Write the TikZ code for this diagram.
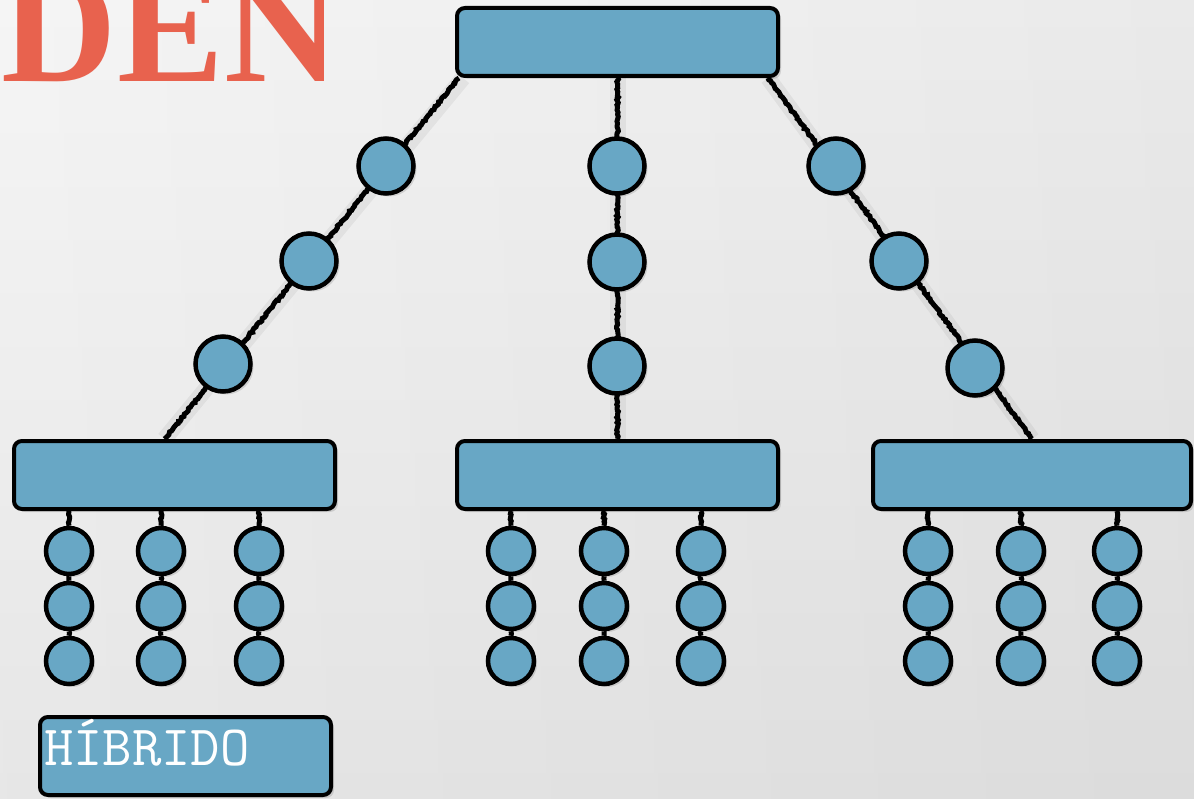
\documentclass[tikz,border=0pt]{standalone}
\usepackage{fontspec}
\setmainfont{Liberation Serif}
\usetikzlibrary{decorations.pathmorphing,shadows}
\definecolor{boxblue}{RGB}{104,167,197}
\definecolor{titlered}{RGB}{232,98,78}
\definecolor{bgtop}{RGB}{245,245,245}
\definecolor{bgbottom}{RGB}{230,230,230}
\pgfdeclarelayer{bg}
\pgfdeclarelayer{cords}
\pgfsetlayers{bg,cords,main}

\tikzset{
  softshadow/.style={drop shadow={shadow xshift=3pt, shadow yshift=-3pt,
      opacity=0.12, fill=black}},
  panel/.style={draw=black, line width=4pt, fill=boxblue, rounded corners=8pt,
      minimum width=321pt, minimum height=68pt, inner sep=0pt, softshadow},
  bead/.style={circle, draw=black, line width=4.5pt, fill=boxblue,
      minimum size=55pt, inner sep=0pt, softshadow},
  smallbead/.style={circle, draw=black, line width=4.5pt, fill=boxblue,
      minimum size=46pt, inner sep=0pt, softshadow},
  cord/.style={line width=5pt, black, decorate,
      decoration={random steps, segment length=2pt, amplitude=0.9pt}},
  cordshade/.style={line width=16pt, black, opacity=0.05},
}

\begin{document}
\begin{tikzpicture}[x=1pt,y=-1pt]
  \useasboundingbox (0,0) rectangle (1194,799);
  \begin{pgfonlayer}{bg}
    \shade[top color=bgtop, bottom color=bgbottom] (0,0) rectangle (1194,799);
    \shade[left color=white, right color=black, opacity=0.045] (0,0) rectangle (1194,799);
  \end{pgfonlayer}
  \clip (0,0) rectangle (1194,799);

  % title fragment
  \node[anchor=base east, text=titlered, inner sep=0pt,
        font=\bfseries\fontsize{160}{160}\selectfont] (title) at (340,82) {DEN};

  % boxes
  \node[panel] (root) at (617.5,42) {};
  \node[panel] (L) at (174.5,475) {};
  \node[panel] (M) at (617.5,475) {};
  \node[panel, minimum width=318pt] (R) at (1032,475) {};

  % beads on the three main cords
  \node[bead] (a1) at (386,166) {};
  \node[bead] (a2) at (309,261) {};
  \node[bead] (a3) at (223,364) {};
  \node[bead] (b1) at (617,166) {};
  \node[bead] (b2) at (617,262) {};
  \node[bead] (b3) at (617,366) {};
  \node[bead] (c1) at (836,166) {};
  \node[bead] (c2) at (899,261) {};
  \node[bead] (c3) at (975,368) {};

  % hanging strings of small beads
  \foreach \g/\xa/\xb/\xc in {l/69/161/259, m/511/604/701, r/928/1021/1117} {
    \foreach \c/\x in {1/\xa,2/\xb,3/\xc} {
      \foreach \r/\y in {1/551,2/606,3/661}
        \node[smallbead] (\g\c\r) at (\x,\y) {};
    }
  }

  % label box
  \node[panel, minimum width=291pt, minimum height=78pt] (tag) at (185.5,756) {};
  \node[anchor=base west, text=white, inner sep=0pt,
        font=\ttfamily\fontsize{57}{57}\selectfont] (tagtext) at (44,765) {HÍBRIDO};

  % cords
  \begin{pgfonlayer}{cords}
    \draw[cordshade] ([xshift=8pt]root.south west) -- ([xshift=-10pt]L.north);
    \draw[cordshade] (root.south) -- (M.north);
    \draw[cordshade] ([xshift=-12pt]root.south east) -- (R.north);
    \draw[cord] ([xshift=4pt]root.south west) -- ([xshift=-10pt]L.north);
    \draw[cord] (root.south) -- (M.north);
    \draw[cord] ([xshift=-12pt]root.south east) -- (R.north);
    \foreach \g/\p in {l/L,m/M,r/R} {
      \foreach \c in {1,2,3} {
        \draw[cord] (\g\c1 |- \p.south) -- (\g\c1.north);
        \draw[cord] (\g\c1.south) -- (\g\c2.north);
        \draw[cord] (\g\c2.south) -- (\g\c3.north);
      }
    }
  \end{pgfonlayer}
\end{tikzpicture}
\end{document}
